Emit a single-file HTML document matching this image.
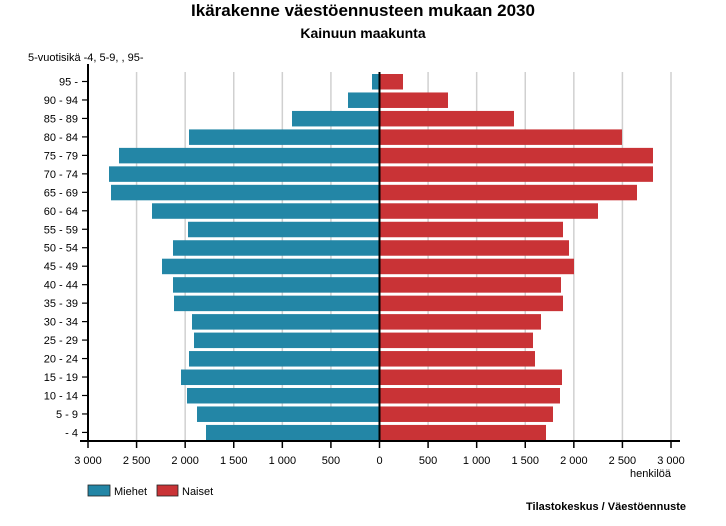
<!DOCTYPE html>
<html><head><meta charset="utf-8"><style>
body{margin:0;background:#fff;}
svg{display:block;font-family:"Liberation Sans",Arial,sans-serif;}
</style></head><body>
<svg id="s" width="726" height="526" xmlns="http://www.w3.org/2000/svg">
<text x="363" y="16" text-anchor="middle" font-size="17" font-weight="bold">Ikärakenne väestöennusteen mukaan 2030</text>
<text x="363" y="38" text-anchor="middle" font-size="14" font-weight="bold">Kainuun maakunta</text>
<text x="28" y="61" font-size="11">5-vuotisikä -4, 5-9, , 95-</text>
<g id="grid"></g><g id="bars"></g><g id="ax"></g>
<text x="671" y="477" text-anchor="end" font-size="11">henkilöä</text>
<rect x="88" y="485" width="22" height="11" fill="#2386a6" stroke="#222" stroke-width="0.8"/>
<text x="114" y="495" font-size="11">Miehet</text>
<rect x="157" y="485" width="21" height="11" fill="#c93336" stroke="#222" stroke-width="0.8"/>
<text x="182" y="495" font-size="11">Naiset</text>
<text x="686" y="510" text-anchor="end" font-size="11" font-weight="bold">Tilastokeskus / Väestöennuste</text>
</svg>
<script>
const NS="http://www.w3.org/2000/svg";
function el(p,t,a,txt){const e=document.createElementNS(NS,t);for(const k in a)e.setAttribute(k,a[k]);if(txt!==undefined)e.textContent=txt;document.getElementById(p).appendChild(e);}
const z=379.5;
const labels=["95 -","90 - 94","85 - 89","80 - 84","75 - 79","70 - 74","65 - 69","60 - 64","55 - 59","50 - 54","45 - 49","40 - 44","35 - 39","30 - 34","25 - 29","20 - 24","15 - 19","10 - 14","5 - 9","- 4"];
const L=[372,348,292,189,119,109,111,152,188,173,162,173,174,192,194,189,181,187,197,206];
const R=[403,448,514,622,653,653,637,598,563,569,574,561,563,541,533,535,562,560,553,546];
const ticks=["3 000","2 500","2 000","1 500","1 000","500","0","500","1 000","1 500","2 000","2 500","3 000"];
for(let i=0;i<13;i++){const x=88+i*583/12;
 if(i!==6&&i!==0)el("grid","line",{x1:x,x2:x,y1:72,y2:441,stroke:"#d0d0d0","stroke-width":1.5});
 el("ax","line",{x1:x,x2:x,y1:441,y2:448,stroke:"#000","stroke-width":1.5});
 el("ax","text",{x:x,y:464,"text-anchor":"middle","font-size":11},ticks[i]);
}
for(let i=0;i<20;i++){const c=81.5+i*18.47;
 el("bars","rect",{x:L[i],y:c-7.5,width:z-L[i],height:15.5,fill:"#2386a6"});
 el("bars","rect",{x:z,y:c-7.5,width:R[i]-z,height:15.5,fill:"#c93336"});
 el("ax","line",{x1:82,x2:88,y1:c,y2:c,stroke:"#000","stroke-width":1.2});
 el("ax","text",{x:78,y:c+4,"text-anchor":"end","font-size":11},labels[i]);
}
el("ax","line",{x1:88,x2:88,y1:64,y2:442,stroke:"#000","stroke-width":2});
el("ax","line",{x1:80,x2:680,y1:441,y2:441,stroke:"#000","stroke-width":2});
el("ax","line",{x1:379.5,x2:379.5,y1:72,y2:441,stroke:"#000","stroke-width":2});
</script>
</body></html>
